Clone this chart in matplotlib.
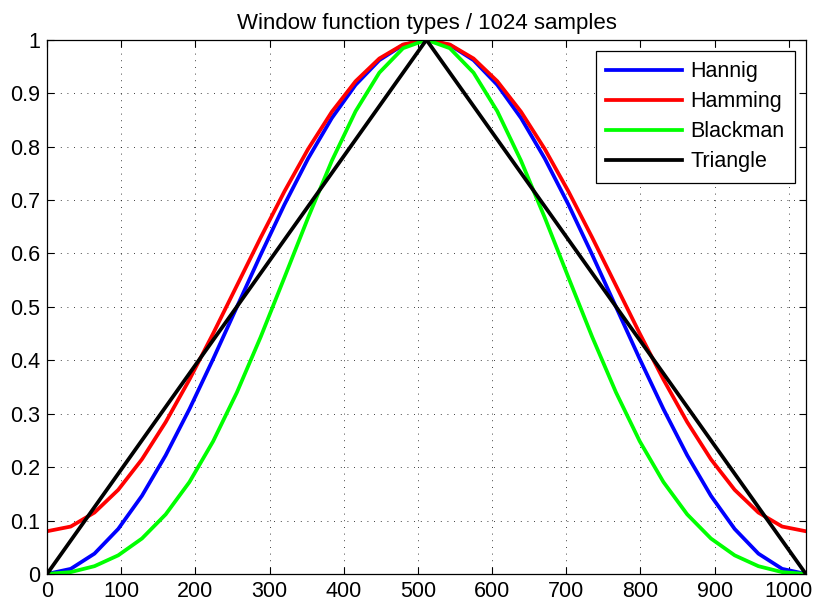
import matplotlib
matplotlib.use('Agg')
import matplotlib.pyplot as plt

# sample positions (about every 32 samples)
n = [0, 32, 64, 96, 128, 160, 192, 224, 256, 288, 320, 352, 384, 416, 448, 480,
     511.5, 543, 575, 607, 639, 671, 703, 735, 767, 799, 831, 863, 895, 927,
     959, 991, 1023]

hann = [0.0, 0.0096, 0.0381, 0.0843, 0.1464, 0.2222, 0.3087, 0.4025, 0.5,
        0.5975, 0.6913, 0.7778, 0.8536, 0.9157, 0.9619, 0.9904, 1.0,
        0.9904, 0.9619, 0.9157, 0.8536, 0.7778, 0.6913, 0.5975, 0.5,
        0.4025, 0.3087, 0.2222, 0.1464, 0.0843, 0.0381, 0.0096, 0.0]

hamming = [0.08, 0.0888, 0.1150, 0.1575, 0.2147, 0.2844, 0.3640, 0.4503, 0.54,
           0.6297, 0.7160, 0.7956, 0.8653, 0.9225, 0.9650, 0.9912, 1.0,
           0.9912, 0.9650, 0.9225, 0.8653, 0.7956, 0.7160, 0.6297, 0.54,
           0.4503, 0.3640, 0.2844, 0.2147, 0.1575, 0.1150, 0.0888, 0.08]

blackman = [0.0, 0.0035, 0.0146, 0.0349, 0.0664, 0.1116, 0.1721, 0.2485, 0.34,
            0.4436, 0.5548, 0.6672, 0.7736, 0.8663, 0.9385, 0.9843, 1.0,
            0.9843, 0.9385, 0.8663, 0.7736, 0.6672, 0.5548, 0.4436, 0.34,
            0.2485, 0.1721, 0.1116, 0.0664, 0.0349, 0.0146, 0.0035, 0.0]

tri_n = [0, 511.5, 1023]
triangle = [0.0, 1.0, 0.0]

xticks = [0, 100, 200, 300, 400, 500, 600, 700, 800, 900, 1000]
yticks = [0, 0.1, 0.2, 0.3, 0.4, 0.5, 0.6, 0.7, 0.8, 0.9, 1]
ylabels = ['0', '0.1', '0.2', '0.3', '0.4', '0.5', '0.6', '0.7', '0.8', '0.9', '1']

plt.rcParams['font.family'] = ['Liberation Sans', 'DejaVu Sans']

fig = plt.figure(figsize=(8.16, 6.07), dpi=100)
ax = fig.add_axes([0.0576, 0.0544, 0.930, 0.880])

lw = 2.7
ax.plot(n, hann, color=(0, 0, 1), lw=lw, label='Hannig')
ax.plot(n, hamming, color=(1, 0, 0), lw=lw, label='Hamming')
ax.plot(n, blackman, color=(0, 1, 0), lw=lw, label='Blackman')
ax.plot(tri_n, triangle, color='black', lw=lw, label='Triangle')

ax.set_xlim(0, 1023)
ax.set_ylim(0, 1)
ax.set_xticks(xticks)
ax.set_yticks(yticks)
ax.set_yticklabels(ylabels)
ax.tick_params(direction='in', top=True, right=True, length=5, width=0.8,
               labelsize=15.5, pad=5)

ax.grid(True, color='black', lw=0.6, linestyle=(0, (1, 7)))
for s in ax.spines.values():
    s.set_linewidth(0.9)

ax.set_title('Window function types / 1024 samples', fontsize=16, pad=8)

leg = ax.legend(loc='upper right', fontsize=15.5, handlelength=3.5,
                handletextpad=0.4, fancybox=False, framealpha=1,
                edgecolor='black', borderaxespad=0.5, labelspacing=0.42,
                borderpad=0.5)
leg.get_frame().set_linewidth(0.9)

fig.savefig('out.png', dpi=100)
